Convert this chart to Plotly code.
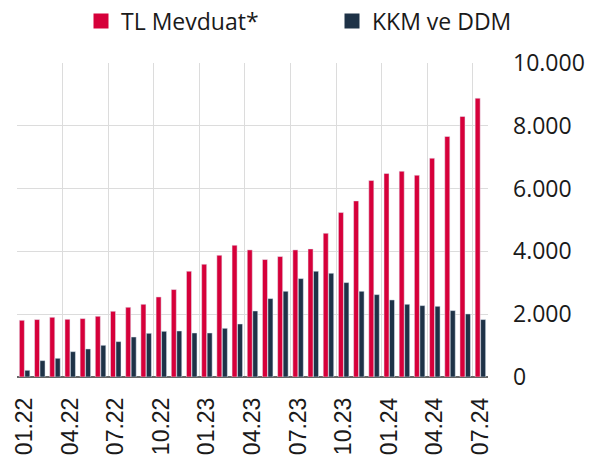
import plotly.graph_objects as go

months = ["01.22","02.22","03.22","04.22","05.22","06.22","07.22","08.22","09.22","10.22","11.22","12.22",
          "01.23","02.23","03.23","04.23","05.23","06.23","07.23","08.23","09.23","10.23","11.23","12.23",
          "01.24","02.24","03.24","04.24","05.24","06.24","07.24"]
tl_mevduat = [1806,1829,1902,1838,1860,1934,2093,2221,2316,2549,2785,3368,
              3591,3877,4196,4047,3740,3836,4047,4079,4578,5237,5608,6257,
              6480,6553,6426,6968,7659,8296,8879]
kkm_ddm = [213,522,596,808,893,1010,1127,1274,1392,1455,1466,1402,
           1402,1551,1689,2103,2497,2730,3134,3368,3304,3007,2730,2624,
           2454,2316,2274,2252,2115,2008,1829]
y_ticks = [0,2000,4000,6000,8000,10000]

RED, NAVY = "#D6003A", "#1E3247"
idx = list(range(len(months)))
shown = idx[::3]

fig = go.Figure()
fig.add_trace(go.Bar(x=idx, y=tl_mevduat, name="TL Mevduat*", marker_color=RED,
                     offsetgroup="a", showlegend=False))
fig.add_trace(go.Bar(x=idx, y=kkm_ddm, name="KKM ve DDM", marker_color=NAVY,
                     offsetgroup="b", showlegend=False))
# legend entries (larger square symbols), sharing the offset groups of the data traces
fig.add_trace(go.Bar(x=[None], y=[None], name="TL Mevduat*", offsetgroup="a",
                     marker=dict(color=RED, line=dict(color=RED, width=3)),
                     legend="legend", showlegend=True, hoverinfo="skip"))
fig.add_trace(go.Bar(x=[None], y=[None], name="KKM ve DDM", offsetgroup="b",
                     marker=dict(color=NAVY, line=dict(color=NAVY, width=3)),
                     legend="legend2", showlegend=True, hoverinfo="skip"))

W, H = 598, 457
leg_common = dict(orientation="h", xref="container", yref="container",
                  xanchor="left", yanchor="middle", y=1 - 21 / H,
                  font=dict(family="Open Sans", size=23, color="#1a1a1a"),
                  itemclick=False, itemdoubleclick=False, bgcolor="rgba(0,0,0,0)")

fig.update_layout(
    width=W, height=H,
    margin=dict(l=17, r=110, t=63, b=80, autoexpand=False),
    paper_bgcolor="white", plot_bgcolor="white",
    barmode="group", bargap=0.28, bargroupgap=0.08,
    separators=",.",
    font=dict(family="Open Sans", size=23, color="#1a1a1a"),
    showlegend=True,
    legend=dict(x=81 / W, **leg_common),
    legend2=dict(x=332 / W, **leg_common),
    xaxis=dict(
        range=[-0.5, len(months) - 0.5], automargin=False,
        tickmode="array", tickvals=shown, ticktext=[months[i] for i in shown],
        tickangle=-90, showgrid=False, zeroline=False,
        ticks="", ticklen=0, ticklabelstandoff=15,
        tickfont=dict(family="Liberation Sans", size=23, color="#1a1a1a"),
        minor=dict(tick0=-0.5, dtick=3, showgrid=True, gridcolor="#dcdcdc", gridwidth=1.3, ticks=""),
        showline=False,
    ),
    yaxis=dict(
        side="right", range=[0, 10000], tickvals=y_ticks, tickformat=",d", automargin=False,
        showgrid=True, gridcolor="#dcdcdc", gridwidth=1.3,
        zeroline=True, zerolinecolor="#666666", zerolinewidth=2,
        ticks="", ticklabelstandoff=24,
        tickfont=dict(family="Open Sans", size=23, color="#1a1a1a"),
    ),
)

fig.write_html("out.html", config={"displayModeBar": False},
               post_script="document.body.style.margin='0';document.body.style.overflow='hidden';")
